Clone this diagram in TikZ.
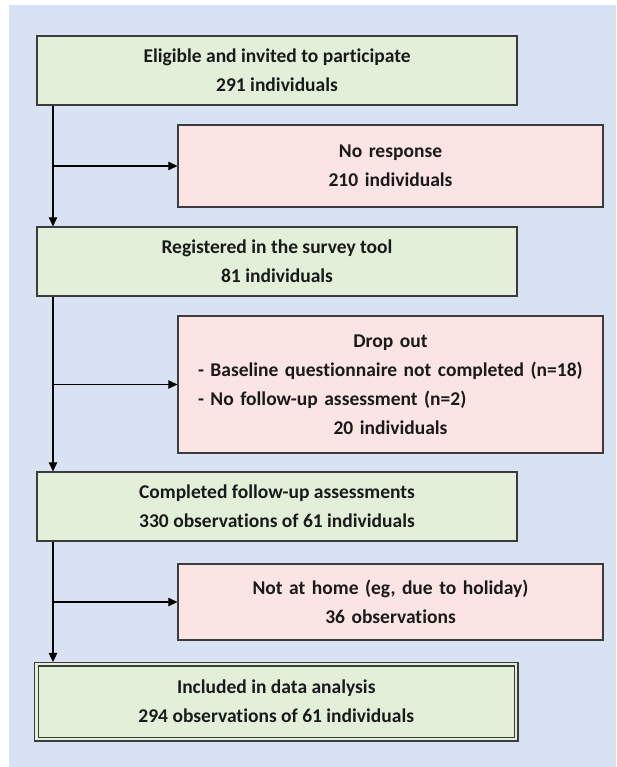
\documentclass[tikz,border=0pt]{standalone}
\usepackage{fontspec}
\setmainfont{Carlito}[Ligatures=NoCommon]
\usetikzlibrary{arrows.meta,calc}
\definecolor{bgblue}{HTML}{D9E2F3}
\definecolor{boxgreen}{HTML}{E2EFD9}
\definecolor{boxpink}{HTML}{FBE4E4}
\definecolor{edgegrey}{HTML}{3C3C3C}
\definecolor{txt}{HTML}{1A1A1A}
\tikzset{
  basebox/.style={draw=edgegrey, line width=1.3pt, rectangle, inner sep=0pt, align=center,
    text=txt, font=\fontsize{19.5}{29}\selectfont\bfseries},
  greenbox/.style={basebox, fill=boxgreen, minimum width=480pt, minimum height=69pt},
  pinkbox/.style={basebox, fill=boxpink, minimum width=425pt, text width=385pt},
  finalbox/.style={basebox, fill=boxgreen, double=boxgreen, double distance=2.6pt, line width=1.2pt,
    minimum width=479.5pt, minimum height=75pt},
  flow/.style={draw=black, line width=1.1pt, -{Triangle[length=9pt,width=8.5pt]}}
}
\begin{document}
\begin{tikzpicture}[x=1pt,y=1pt]
\useasboundingbox (0,0) rectangle (616,-767);
\fill[bgblue] (9,-5) rectangle (616,-767);
\node[greenbox] (b1) at (277,-70.5) {Eligible and invited to participate\\291 individuals};
\node[pinkbox, minimum height=82pt] (r1) at (390.5,-166) {No response\\210 individuals};
\node[greenbox] (b2) at (277,-261.5) {Registered in the survey tool\\81 individuals};
\node[pinkbox, minimum height=137pt] (r2) at (390.5,-384.5) {Drop out\\\makebox[\linewidth][l]{- Baseline questionnaire not completed (n=18)}\\\makebox[\linewidth][l]{- No follow-up assessment (n=2)}\\20 individuals};
\node[greenbox] (b3) at (277,-506.5) {Completed follow-up assessments\\330 observations of 61 individuals};
\node[pinkbox, minimum height=76pt] (r3) at (390.5,-602) {Not at home (eg, due to holiday)\\36 observations};
\node[finalbox] (b4) at (276.25,-701.5) {Included in data analysis\\294 observations of 61 individuals};
\coordinate (spine) at (53,0);
\draw[flow] (b1.south -| spine) -- (b2.north -| spine);
\draw[flow] (b2.south -| spine) -- (b3.north -| spine);
\draw[flow] (b3.south -| spine) -- ($(b4.north -| spine)+(0,1.5)$);
\draw[flow] (spine |- r1.west) -- (r1.west);
\draw[flow] (spine |- r2.west) -- (r2.west);
\draw[flow] (spine |- r3.west) -- (r3.west);
\end{tikzpicture}
\end{document}
